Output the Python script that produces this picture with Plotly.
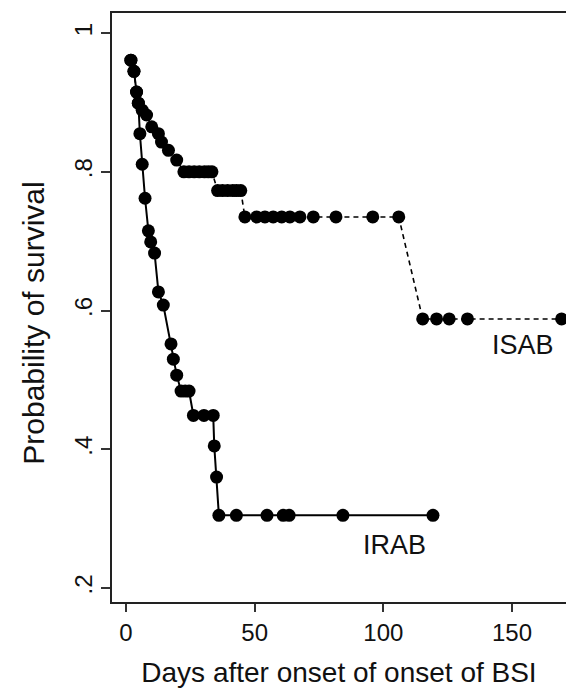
import plotly.graph_objects as go

# ISAB group (dashed)
isab_days = [1.9, 3.1, 4.1, 4.8, 6.3, 8.0, 10.0, 12.6, 13.8, 16.5, 19.7,
             22.5, 24.5, 26.5, 28.5, 30.5, 32.0, 33.4,
             35.6, 37.5, 39.5, 41.5, 43.0, 44.6,
             46.2, 50.8, 54.0, 57.2, 60.5, 63.7, 67.6, 72.8, 81.6, 95.9, 106.0,
             115.3, 120.7, 125.6, 132.7, 169.3]
isab_surv = [0.961, 0.945, 0.915, 0.899, 0.889, 0.882, 0.865, 0.855, 0.843, 0.831, 0.817,
             0.800, 0.800, 0.800, 0.800, 0.800, 0.800, 0.800,
             0.773, 0.773, 0.773, 0.773, 0.773, 0.773,
             0.735, 0.735, 0.735, 0.735, 0.735, 0.735, 0.735, 0.735, 0.735, 0.735, 0.735,
             0.588, 0.588, 0.588, 0.588, 0.588]

# IRAB group (solid)
irab_days = [1.9, 3.1, 4.1, 4.8, 5.4, 6.3, 7.4, 8.7, 9.6, 11.1, 12.6, 14.5,
             17.5, 18.4, 19.7, 21.4, 23.0, 24.5, 26.2, 30.3, 33.9, 34.3, 35.2,
             36.1, 42.9, 54.8, 61.1, 63.4, 84.3, 119.3]
irab_surv = [0.961, 0.945, 0.915, 0.899, 0.855, 0.811, 0.762, 0.715, 0.699, 0.683, 0.627, 0.608,
             0.552, 0.530, 0.507, 0.484, 0.484, 0.484, 0.449, 0.449, 0.449, 0.405, 0.360,
             0.305, 0.305, 0.305, 0.305, 0.305, 0.305, 0.305]

x_ticks = [0, 50, 100, 150]
x_tick_labels = ["0", "50", "100", "150"]
y_ticks = [0.2, 0.4, 0.6, 0.8, 1.0]
y_tick_labels = [".2", ".4", ".6", ".8", "1"]

group_labels = ["ISAB", "IRAB"]
label_x = [154.4, 104.5]
label_y = [0.550, 0.262]

x_title = "Days after onset of onset of BSI"
y_title = "Probability of survival"

FONT = "Liberation Sans, Arial, sans-serif"

fig = go.Figure()
fig.add_trace(go.Scatter(
    x=isab_days, y=isab_surv, mode="lines+markers", name="ISAB",
    line=dict(color="black", width=1.6, dash="5px,4px"),
    marker=dict(color="black", size=13, line=dict(width=0)),
))
fig.add_trace(go.Scatter(
    x=irab_days, y=irab_surv, mode="lines+markers", name="IRAB",
    line=dict(color="black", width=2),
    marker=dict(color="black", size=13, line=dict(width=0)),
))

for t, lx, ly in zip(group_labels, label_x, label_y):
    fig.add_annotation(x=lx, y=ly, text=t, showarrow=False,
                       font=dict(family=FONT, size=27, color="#111"))

# y-axis title placed as rotated text (sits slightly below plot centre, as in the original)
fig.add_annotation(xref="paper", yref="paper", x=-0.172, y=0.474,
                   text=y_title, textangle=-90, showarrow=False,
                   xanchor="center", yanchor="middle",
                   font=dict(family=FONT, size=30, color="#111"))

fig.update_layout(
    width=566, height=692,
    margin=dict(l=112, r=0, t=13, b=90),
    paper_bgcolor="white", plot_bgcolor="white",
    showlegend=False,
    font=dict(family=FONT, color="#111"),
)
fig.update_xaxes(
    range=[-5.44, 171.0], tickvals=x_ticks, ticktext=x_tick_labels,
    ticks="outside", ticklen=8, tickwidth=1.5, tickcolor="#333",
    showline=True, linecolor="#222", linewidth=1.5, mirror=True,
    showgrid=False, zeroline=False,
    tickfont=dict(size=24),
    title=dict(text=x_title, font=dict(size=28), standoff=18),
)
fig.update_yaxes(
    range=[0.180, 1.029], tickvals=y_ticks, ticktext=y_tick_labels,
    ticks="outside", ticklen=9, tickwidth=1.5, tickcolor="#333",
    tickangle=-90,
    showline=True, linecolor="#222", linewidth=1.5, mirror=False,
    showgrid=False, zeroline=False,
    tickfont=dict(size=24),
)

fig.write_html(
    "out.html",
    config={"displayModeBar": False},
    post_script="document.body.style.margin='0';"
                "document.documentElement.style.overflow='hidden';"
                "document.body.style.overflow='hidden';",
)
